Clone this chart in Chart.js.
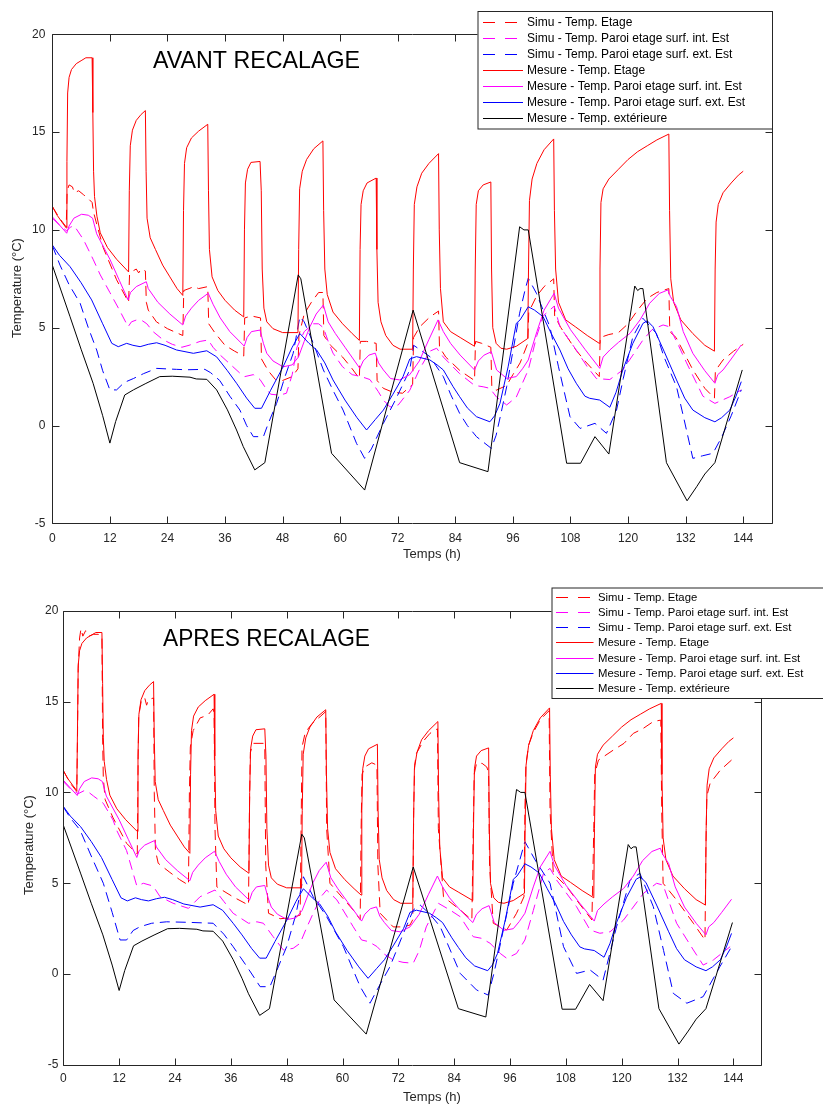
<!DOCTYPE html>
<html lang="fr">
<head>
<meta charset="UTF-8">
<title>Avant / après recalage</title>
<script src="https://cdn.jsdelivr.net/npm/chart.js"></script>
<style>
  body { margin: 0; background: #fff; }
  .wrap { position: relative; width: 823px; height: 1104px; overflow: hidden; }
  canvas { position: absolute; left: 0; }
  #avant { top: 0; }
  #apres { top: 570px; }
</style>
</head>
<body>
<div class="wrap">
  <canvas id="avant" width="823" height="570"></canvas>
  <canvas id="apres" width="823" height="534"></canvas>
</div>
<script>
const labels = [
  'Simu - Temp. Etage',
  'Simu - Temp. Paroi etage surf. int. Est',
  'Simu - Temp. Paroi etage surf. ext. Est',
  'Mesure - Temp. Etage',
  'Mesure - Temp. Paroi etage surf. int. Est',
  'Mesure - Temp. Paroi etage surf. ext. Est',
  'Mesure - Temp. extérieure'
];
const xTicks = [0, 12, 24, 36, 48, 60, 72, 84, 96, 108, 120, 132, 144];
const yTicks = [-5, 0, 5, 10, 15, 20];

// [temps (h), température (°C)]
const mesEtage = [[0,11.2],[1,10.75],[2,10.4],[2.9,10.1],[3.05,13.5],[3.2,17.0],[3.5,17.8],[4,18.2],[5,18.5],[6,18.65],[7,18.8],[8.3,18.8],[8.45,16],[8.6,13],[8.8,11.7],[9.3,10.7],[10,9.85],[11.5,9.1],[13.4,8.5],[15.9,7.85],[16.05,12],[16.25,14.3],[16.7,15.1],[17.5,15.6],[18.5,15.9],[19.4,16.1],[19.55,13],[19.75,10.6],[20.4,9.6],[21.5,9.0],[23,8.2],[24.5,7.6],[26,7.0],[27.2,6.65],[27.35,11],[27.55,13.4],[28,14.2],[29,14.7],[30.5,15.05],[32.4,15.4],[32.55,12],[32.75,9],[33.3,7.6],[34.5,6.9],[36,6.4],[38,5.9],[39.9,5.55],[40.05,10],[40.25,12.4],[40.7,13.1],[41.4,13.45],[43.3,13.5],[43.55,12],[43.75,8],[44.1,6.0],[44.7,5.3],[46,4.95],[48,4.75],[51.2,4.75],[51.35,9],[51.55,12.1],[52.1,13.0],[53,13.6],[54.5,14.15],[56.4,14.55],[56.55,11],[56.8,8],[57.3,6.7],[58.5,5.8],[60.5,5.2],[62.5,4.7],[64,4.35],[64.15,9],[64.35,11.3],[64.8,12.0],[65.6,12.4],[67.5,12.65],[67.65,9],[67.9,6.3],[68.5,5.3],[69.5,4.6],[71,4.1],[72.5,3.9],[75.1,3.9],[75.25,8],[75.45,11.3],[76,12.2],[77,12.9],[78.5,13.4],[80.5,13.9],[80.65,10],[80.9,7],[81.5,5.3],[83,4.8],[85,4.5],[88,4.05],[88.15,8],[88.35,11.3],[88.8,12.0],[89.8,12.3],[91.4,12.45],[91.55,8],[91.8,5.0],[92.5,4.2],[93.5,3.95],[94.7,3.9],[96.7,4.05],[99.1,4.45],[99.25,8],[99.45,11.5],[100,12.6],[101,13.4],[102.5,14.1],[104.5,14.65],[104.65,11],[104.9,8],[105.5,6.3],[107,5.4],[109,5.05],[111.5,4.6],[114,4.2],[114.15,8],[114.35,11.4],[114.8,12.1],[116,12.6],[118,13.1],[120,13.6],[122,14.0],[124,14.3],[126,14.6],[128.5,14.9],[128.65,11],[128.9,7.5],[129.5,6.3],[131,5.4],[133.5,4.7],[136,4.1],[138,3.8],[138.15,8],[138.35,10.4],[138.8,11.3],[139.8,11.9],[141.5,12.4],[143,12.8],[144,13.0]];
const mesInt = [[0,10.67],[1.5,10.25],[3,9.83],[3.5,10.2],[4.5,10.6],[6.1,10.8],[7.5,10.75],[8.4,10.6],[9.25,9.8],[12,8.5],[14,7.4],[15.8,6.42],[16.3,6.8],[17.5,7.1],[19.6,7.35],[20,7.0],[22,6.3],[24.5,5.7],[27.2,5.14],[27.8,5.6],[29,6.0],[30.5,6.4],[32.5,6.76],[33.5,6.2],[35,5.5],[37,4.8],[40,4.06],[40.6,4.5],[41.5,4.8],[43.3,4.88],[44,4.2],[44.7,3.69],[46,3.3],[48.1,3.0],[50,3.1],[51.3,3.5],[52.5,4.3],[53.7,5.05],[55,5.7],[56.5,6.16],[57.5,5.3],[59,4.7],[61,4.0],[64.1,2.92],[64.8,3.3],[66,3.6],[67.3,3.7],[68,3.2],[69,2.84],[70.5,2.4],[72.4,2.33],[74.5,2.6],[76.5,3.3],[78.5,4.4],[80.4,5.4],[81.5,4.8],[83,4.2],[85,3.6],[88,2.84],[88.8,3.3],[90,3.6],[91.5,3.77],[92.6,2.84],[94.7,2.41],[96.7,2.5],[98,2.9],[99.2,3.35],[101,4.8],[102.5,5.9],[104.6,6.76],[105.5,6.0],[108,4.9],[111,3.9],[114.1,2.92],[114.8,3.5],[116.2,3.86],[118,4.25],[120.4,4.71],[122.5,5.4],[124.5,6.25],[126.5,6.75],[128.3,6.93],[128.8,6.6],[130.1,6.08],[131.5,4.8],[133.5,3.69],[136,2.8],[138.1,2.16],[138.7,2.6],[139.8,2.84],[141.5,3.4],[143.6,4.12]];
const mesExt = [[0,9.23],[1.5,8.7],[3.7,8.12],[6,7.3],[8.2,6.42],[10.5,5.2],[12.4,4.2],[13.75,4.03],[15.5,4.2],[16.8,4.1],[18.3,4.03],[20,4.15],[21.75,4.23],[23.5,4.1],[25.9,3.86],[29.4,3.69],[32.2,3.82],[34.25,3.51],[36.5,2.8],[38.4,2.16],[40.5,1.4],[42.2,0.88],[43.6,0.88],[45.5,1.8],[48.1,3.0],[50,4.0],[51.6,4.7],[53.5,4.2],[55.1,3.86],[56.8,3.2],[58.5,2.33],[61,1.3],[63.5,0.4],[65.5,-0.23],[67.3,0.3],[69,0.79],[71,1.6],[73.1,2.5],[74.5,3.4],[75.9,3.52],[78.7,3.35],[80.2,3.1],[81.5,2.84],[83.5,2.0],[84.9,1.47],[86.5,0.9],[88.4,0.45],[91.2,0.19],[92.2,0.5],[93.3,1.13],[95,3.0],[96.7,5.22],[97.5,5.4],[99.2,6.07],[100.5,5.9],[102.3,5.56],[104,4.7],[105.8,3.86],[107.5,2.9],[109.2,2.16],[111,1.5],[112,1.39],[114.1,1.3],[116.2,0.93],[117.5,1.7],[118.9,2.84],[121,4.2],[123.1,5.22],[124,5.35],[125.2,5.05],[127.5,3.8],[130.1,2.33],[131.8,1.4],[133.5,0.79],[136,0.4],[138.1,0.19],[139.5,0.4],[141.2,0.79],[142.5,1.5],[143.6,2.24]];
const mesOut = [[0,8.2],[3.7,5.56],[6,3.9],[8.5,2.16],[10.5,0.5],[12,-0.9],[13.2,0.2],[15.1,1.56],[16.9,1.82],[19.5,2.15],[22.4,2.5],[25,2.52],[28.7,2.47],[30,2.38],[32.2,2.36],[34.25,1.82],[36.5,0.8],[38.4,-0.23],[39.8,-1.08],[42.2,-2.27],[44.3,-1.9],[51.25,7.7],[51.8,7.5],[58.2,-1.42],[65.1,-3.3],[75.2,5.9],[84.9,-1.9],[90.8,-2.36],[97.4,10.16],[98.3,10.0],[99.2,10.0],[107.2,-1.93],[110.1,-1.93],[113.1,-0.57],[116.0,-1.46],[121.4,7.13],[122,6.9],[122.5,7.0],[123.1,7.0],[128.0,-1.9],[132.3,-3.85],[134.3,-3.13],[136,-2.48],[138.1,-1.9],[143.8,2.84]];

// simulation avant recalage
const simEtageAvant = [[0,11.2],[1.5,10.6],[2.9,10.15],[3.1,12.0],[3.5,12.3],[4.2,12.2],[4.6,11.9],[5.5,12.0],[6.5,11.8],[7.5,11.6],[8.3,11.4],[8.6,10.9],[9.25,10.3],[10.6,9.1],[13.4,7.45],[15.9,6.3],[16.1,7.7],[16.8,7.9],[17.5,8.0],[18,7.8],[18.5,8.0],[19.4,7.9],[19.6,6.3],[20,5.9],[21.7,5.3],[24,4.95],[27.2,4.6],[27.4,6.9],[28.5,7.0],[29.5,7.1],[30.5,7.0],[32.4,7.1],[32.6,5.2],[34,4.7],[36,4.1],[38,3.8],[39.9,3.55],[40.1,5.5],[41.5,5.6],[43.4,5.5],[43.6,3.4],[45,2.8],[46.5,2.35],[48,2.3],[50,2.5],[51.2,2.9],[51.4,4.6],[52.5,5.7],[54,6.3],[55.5,6.8],[56.4,6.8],[56.6,4.6],[58,4.1],[60.5,3.5],[62.5,2.9],[64,2.4],[64.2,4.3],[65.5,4.3],[67.5,4.2],[67.7,2.3],[69,1.9],[71,1.7],[73,1.65],[75.1,2.1],[75.3,4.5],[76.6,5.05],[78.7,5.55],[80.5,5.85],[80.7,4.0],[82,3.5],[85,2.8],[88,2.3],[88.2,4.3],[89.5,4.2],[91.4,4.0],[91.6,2.0],[92.5,1.8],[94.7,2.05],[96,2.6],[97.5,3.2],[99.1,4.2],[99.3,5.8],[100.9,6.6],[102.5,7.1],[104.5,7.5],[104.7,5.6],[106,5.0],[109,3.9],[111,3.3],[114,2.5],[114.2,4.5],[116,4.65],[118,4.75],[120,5.2],[122,5.9],[124,6.5],[126,6.8],[128.5,7.0],[128.7,4.8],[130,4.5],[133.5,2.85],[136,1.9],[138,1.4],[138.2,2.8],[139.8,3.35],[142,3.8],[144,4.15]];
const simIntAvant = [[0,10.6],[1.5,10.25],[3,9.95],[3.8,10.15],[4.6,10.2],[6.5,9.5],[8.5,8.5],[10,7.7],[12,6.8],[14,5.9],[15.8,5.05],[16.5,5.3],[17.6,5.4],[18.8,5.35],[19.7,5.2],[21,4.8],[23,4.4],[25,4.15],[27,4.0],[28.5,4.1],[30.8,4.3],[32.5,4.37],[33.5,4.0],[35,3.6],[37,3.15],[39,2.7],[40.1,2.5],[41.9,2.6],[43.3,2.35],[44.5,1.9],[45.5,1.6],[47.4,1.55],[48.8,1.65],[50,2.6],[51,4.0],[52.5,4.8],[54.4,5.2],[55.5,5.2],[56.5,5.0],[57.5,4.3],[58.5,3.7],[60.5,3.0],[62.5,2.6],[64.4,2.5],[66.2,2.35],[67.9,1.75],[69,1.3],[70.4,0.95],[72.1,1.05],[74.5,1.8],[76.6,2.9],[78.7,3.8],[80.1,3.95],[81.5,3.5],[84.9,2.65],[88,2.05],[89.8,1.98],[91.2,1.9],[92.6,1.45],[94.7,1.05],[96.7,1.45],[99.2,2.84],[101,4.6],[102.3,5.6],[104.6,6.1],[105.8,5.05],[109.2,3.86],[111.5,3.0],[113.4,2.4],[116.2,2.35],[118.9,2.84],[121,3.6],[123.1,4.37],[125,4.9],[127.3,5.14],[128.6,5.05],[130.5,4.1],[132.2,3.2],[135.6,1.5],[138.1,1.13],[141.2,1.47],[143.6,1.82]];
const simExtAvant = [[0,9.2],[1.6,8.2],[3.5,7.2],[5.8,6.25],[7.5,5.0],[9.25,3.86],[10.5,2.8],[12,1.82],[13.4,1.82],[15,2.2],[16.9,2.4],[19,2.65],[21.75,2.92],[25.9,2.87],[28,2.85],[31.8,2.87],[33,2.7],[34.9,2.3],[37,1.5],[39.1,0.79],[40.5,0.0],[41.9,-0.57],[44,-0.57],[45,0.1],[46.75,1.13],[48.5,2.5],[50.2,3.69],[51.6,5.56],[52.5,5.3],[54.4,4.2],[56.5,2.84],[58.5,1.8],[60.6,0.79],[63.4,-0.91],[65.1,-1.68],[66.5,-1.2],[69,0.11],[71.5,1.3],[74.5,2.84],[75.3,4.1],[76.5,3.9],[78.7,3.52],[81.5,2.5],[83,1.6],[84.9,0.62],[86.5,0.0],[88.4,-0.57],[91.5,-1.17],[92.5,-0.5],[93.5,0.6],[94.7,1.98],[96,3.8],[97.4,5.74],[98.5,6.9],[99.2,7.53],[100.9,6.76],[103.7,5.05],[105.5,3.0],[107.9,0.45],[110,-0.15],[113.1,0.11],[115.5,-0.4],[117.6,0.79],[119,2.4],[121,4.54],[123.1,5.48],[125.9,4.71],[127.5,3.5],[130.1,1.98],[131.5,0.5],[133.5,-1.68],[135.5,-1.55],[137.7,-1.42],[139.5,-0.6],[141.5,0.5],[143.6,1.82]];

// simulation après recalage
const simEtageApres = [[0,11.2],[1.5,10.5],[2.9,10.05],[3.05,13],[3.2,16.8],[3.5,18.5],[3.8,19.0],[4.2,18.6],[4.8,18.9],[5.5,18.6],[6.5,18.7],[7.5,18.7],[8.3,18.6],[8.45,13],[8.6,10.8],[9.0,9.6],[10.7,8.6],[13.6,7.2],[15.9,6.6],[16.05,11],[16.2,14.2],[16.8,15.1],[17.5,15.2],[17.9,14.8],[18.3,15.1],[19.4,15.2],[19.55,10],[19.8,6.8],[20.4,6.1],[22.9,5.6],[25,5.2],[26.9,4.9],[27.1,10],[27.3,12.5],[27.9,13.4],[29.4,14.1],[30.5,14.2],[31.2,14.3],[32.2,14.6],[32.4,14.4],[32.6,8],[33,4.8],[36.5,4.25],[39.8,3.8],[40.0,9],[40.2,12.2],[40.8,12.7],[43,12.7],[43.3,12.5],[43.5,6],[44.1,3.35],[46.6,3.05],[49,3.1],[50.9,3.25],[51.1,8],[51.3,12.5],[52,13.3],[53.5,13.8],[55.2,14.17],[56.4,14.45],[56.6,8],[57.3,5.0],[60,4.2],[62.3,3.53],[63.8,3.0],[64.0,8],[64.2,11.0],[64.8,11.4],[66.3,11.63],[67.4,11.5],[67.6,6],[68.1,3.35],[70.9,2.6],[73,2.6],[74.5,2.7],[75.1,3.0],[75.3,9],[75.5,11.5],[75.9,12.15],[77.3,12.8],[78.8,13.25],[80.4,13.5],[80.6,8],[81.7,4.26],[85.3,3.53],[87.8,2.98],[88.1,8],[88.3,11.0],[88.8,11.6],[90,11.6],[91,11.4],[91.4,11.1],[91.6,6],[92.4,2.8],[95.3,2.43],[97.4,3.35],[99.0,4.26],[99.2,9],[99.4,11.5],[100,12.6],[101,13.3],[102.5,14.0],[104.4,14.5],[104.6,9],[105.3,5.55],[108.2,4.81],[110.3,4.08],[113.6,2.98],[114.0,8],[114.2,11.0],[115,11.78],[118.2,12.33],[120.5,12.7],[122.5,13.25],[124.5,13.5],[126.8,13.9],[128.4,13.98],[128.6,9],[128.9,5.0],[131.8,4.08],[135.4,2.8],[137.9,1.88],[138.1,7],[138.3,9.8],[139,10.5],[141.2,11.23],[143.6,11.78],[144,11.85]];
const simIntApres = [[0,10.6],[1.5,10.2],[3.2,9.93],[4.5,10.1],[5.5,10.0],[6.5,9.8],[8.6,9.4],[10.7,8.48],[11.5,7.9],[13.6,6.8],[15.8,4.85],[17.2,5.0],[19.3,4.85],[20.8,4.26],[23.6,3.9],[26.9,3.62],[29.4,4.26],[32.6,4.63],[34.5,4.0],[36.5,3.35],[39.8,2.8],[41.6,2.88],[43,2.8],[45.1,2.06],[47.3,1.33],[49.4,1.42],[50.9,1.7],[52.2,2.5],[53.7,3.35],[55.5,4.3],[56.6,4.63],[58.8,4.08],[62.3,2.61],[64.1,1.88],[65.6,1.79],[67.4,1.52],[69,1.1],[70.9,0.78],[73,0.65],[75.2,0.6],[76.5,1.3],[78,2.6],[80.6,3.9],[83.1,3.53],[85.3,3.16],[88.1,2.06],[89.9,1.97],[91.7,1.7],[93.9,1.14],[95.3,0.87],[97.4,1.14],[99.2,1.88],[101,3.5],[103.2,5.55],[104.6,5.82],[106,5.18],[110.3,3.71],[113.2,2.43],[115.3,2.25],[117.5,2.33],[120.4,2.98],[124.7,4.45],[127.5,5.0],[128.9,4.9],[131.8,2.8],[135.4,1.33],[137.5,0.5],[139.7,0.78],[143.3,1.51]];
const simExtApres = [[0,9.2],[1.5,8.6],[3.6,7.93],[6,6.5],[8.6,5.0],[10.5,3.4],[12.2,1.88],[13.6,1.88],[15,2.4],[16.5,2.61],[19,2.8],[22.2,2.88],[27,2.85],[32.2,2.8],[34.5,2.2],[36.5,1.51],[39.5,0.4],[42.3,-0.69],[44.4,-0.69],[46.2,0.4],[48,1.51],[50,3.3],[51.6,5.36],[53.7,4.26],[56.6,3.16],[60.2,1.51],[63.8,-0.69],[65.9,-1.6],[68,-0.6],[70.2,0.41],[72.7,2.0],[75.2,3.53],[76.7,3.8],[78.8,3.3],[81,2.61],[85.3,0.04],[88.8,-0.87],[91.3,-1.15],[92.5,0.0],[93.8,1.51],[96.7,5.0],[99.2,7.29],[101.4,6.28],[104.6,5.0],[107.5,1.51],[110.3,0.04],[113.2,0.23],[116,-0.33],[118.9,2.61],[121.8,5.18],[123.9,5.55],[126.8,3.71],[129,1.3],[131.1,-1.06],[134,-1.6],[137.5,-1.24],[141.1,0.41],[143.6,1.51]];

const colors = ['#ff0000', '#ff00ff', '#0000ff', '#ff0000', '#ff00ff', '#0000ff', '#000000'];
const FONT = '"Liberation Sans", Arial, sans-serif';
const INK = '#262626';

// cadre, graduations intérieures, titres et légende
const decor = {
  id: 'decor',
  afterDatasetsDraw(chart, args, o) {
    const { ctx, chartArea: a, scales: { x, y } } = chart;
    const L = Math.round(a.left) + 0.5, R = Math.round(a.right) + 0.5;
    const T = Math.round(a.top) + 0.5, B = Math.round(a.bottom) + 0.5;
    ctx.save();
    ctx.strokeStyle = INK;
    ctx.lineWidth = 1;
    ctx.beginPath();
    ctx.rect(L, T, R - L, B - T);
    xTicks.forEach(v => {
      const px = Math.round(x.getPixelForValue(v)) + 0.5;
      ctx.moveTo(px, B); ctx.lineTo(px, B - 7);
      ctx.moveTo(px, T); ctx.lineTo(px, T + 7);
    });
    yTicks.forEach(v => {
      const py = Math.round(y.getPixelForValue(v)) + 0.5;
      ctx.moveTo(L, py); ctx.lineTo(L + 7, py);
      ctx.moveTo(R, py); ctx.lineTo(R - 7, py);
    });
    ctx.stroke();

    ctx.fillStyle = INK;
    ctx.font = '13px ' + FONT;
    ctx.textAlign = 'center';
    ctx.textBaseline = 'middle';
    ctx.fillText('Temps (h)', o.xTitleX, o.xTitleY);
    ctx.save();
    ctx.translate(o.yTitleX, o.yTitleY);
    ctx.rotate(-Math.PI / 2);
    ctx.fillText('Temperature (°C)', 0, 0);
    ctx.restore();

    ctx.fillStyle = '#000';
    ctx.font = '24px ' + FONT;
    ctx.textAlign = 'left';
    ctx.textBaseline = 'alphabetic';
    ctx.fillText(o.title, o.titleX, o.titleY, 207);

    const g = o.legend;
    ctx.fillStyle = '#fff';
    ctx.fillRect(g.x, g.y, g.w, g.h);
    ctx.strokeStyle = INK;
    ctx.strokeRect(g.x + 0.5, g.y + 0.5, g.w, g.h);
    ctx.font = g.size + 'px ' + FONT;
    ctx.textBaseline = 'middle';
    chart.data.datasets.forEach((ds, i) => {
      const cy = Math.round(g.y + g.first + i * g.step) + 0.5;
      const dashed = ds.borderDash.length > 0;
      ctx.strokeStyle = ds.borderColor;
      ctx.setLineDash(dashed ? [12, 10] : []);
      ctx.beginPath();
      ctx.moveTo(g.lineX, cy);
      ctx.lineTo(g.lineX + (dashed ? 34 : g.lineW), cy);
      ctx.stroke();
      ctx.setLineDash([]);
      ctx.fillStyle = '#000';
      ctx.fillText(ds.label, g.textX, cy);
    });
    ctx.restore();
  }
};

function buildChart(id, sims, box) {
  const series = [sims[0], sims[1], sims[2], mesEtage, mesInt, mesExt, mesOut];
  const datasets = series.map((pts, i) => ({
    label: labels[i],
    data: pts.map(([t, v]) => ({ x: t, y: v })),
    borderColor: colors[i],
    borderWidth: 1,
    borderDash: i < 3 ? [10, 6] : [],
    pointRadius: 0,
    tension: 0,
    fill: false,
    order: 6 - i
  }));
  return new Chart(document.getElementById(id), {
    type: 'line',
    data: { datasets },
    plugins: [decor],
    options: {
      responsive: false,
      animation: false,
      devicePixelRatio: 1,
      events: [],
      layout: { padding: { left: 0, right: box.padRight, top: box.padTop, bottom: 0 } },
      plugins: {
        legend: { display: false },
        tooltip: { enabled: false },
        decor: box.decor
      },
      scales: {
        x: {
          type: 'linear',
          min: 0,
          max: 150,
          afterBuildTicks: s => { s.ticks = xTicks.map(v => ({ value: v })); },
          afterFit: s => { s.height = box.xHeight; },
          grid: { display: false, drawTicks: false },
          border: { display: false },
          ticks: { color: INK, font: { family: FONT, size: 12 }, padding: box.xPad, maxRotation: 0, autoSkip: false }
        },
        y: {
          min: -5,
          max: 20,
          afterBuildTicks: s => { s.ticks = yTicks.map(v => ({ value: v })); },
          afterFit: s => { s.width = box.yWidth; },
          grid: { display: false, drawTicks: false },
          border: { display: false },
          ticks: { color: INK, font: { family: FONT, size: 12 }, padding: box.yPad }
        }
      }
    }
  });
}

buildChart('avant', [simEtageAvant, simIntAvant, simExtAvant], {
  padRight: 51, padTop: 34.3, xHeight: 46.7, yWidth: 52.3, xPad: 8, yPad: 7,
  decor: {
    title: 'AVANT RECALAGE', titleX: 153, titleY: 68,
    xTitleX: 432, xTitleY: 554, yTitleX: 17.5, yTitleY: 288,
    legend: { x: 477.5, y: 11, w: 294.5, h: 117.5, first: 10.7, step: 16.1, lineX: 483, lineW: 40, textX: 527, size: 12 }
  }
});

buildChart('apres', [simEtageApres, simIntApres, simExtApres], {
  padRight: 61.7, padTop: 40.7, xHeight: 39, yWidth: 63.3, xPad: 6.5, yPad: 5,
  decor: {
    title: 'APRES RECALAGE', titleX: 163, titleY: 76,
    xTitleX: 432, xTitleY: 527, yTitleX: 29, yTitleY: 275,
    legend: { x: 551.5, y: 17.5, w: 290, h: 110.5, first: 9.2, step: 15.2, lineX: 556, lineW: 37.5, textX: 598, size: 11.3 }
  }
});
</script>
</body>
</html>
